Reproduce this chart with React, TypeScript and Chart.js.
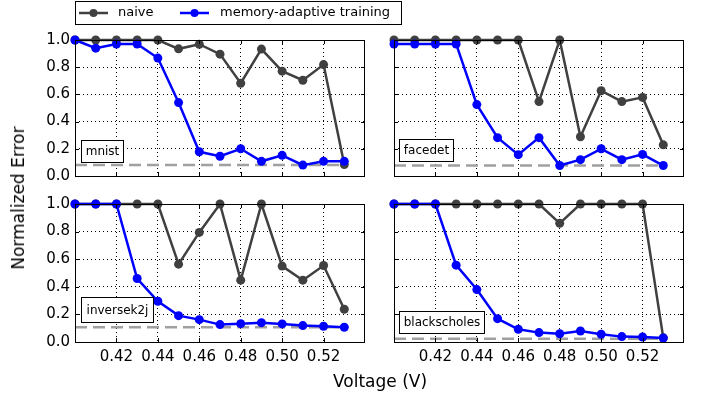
import React, { useEffect, useRef } from "react";
import { Chart, registerables } from "chart.js";

Chart.register(...registerables);

// ---------------- data ----------------
const voltages = [0.4, 0.41, 0.42, 0.43, 0.44, 0.45, 0.46, 0.47, 0.48, 0.49, 0.5, 0.51, 0.52, 0.53];
const xTickValues = [0.42, 0.44, 0.46, 0.48, 0.5, 0.52];
const yTickValues = [0, 0.2, 0.4, 0.6, 0.8, 1.0];

const mnistNaive = [1, 1, 1, 1, 1, 0.935, 0.969, 0.896, 0.682, 0.933, 0.771, 0.704, 0.819, 0.084];
const mnistAdaptive = [1.0, 0.94, 0.971, 0.971, 0.867, 0.54, 0.178, 0.145, 0.2, 0.108, 0.152, 0.08, 0.108, 0.108];
const mnistBaseline = 0.08;

const facedetNaive = [1, 1, 1, 1, 1, 1, 1, 0.547, 1, 0.289, 0.627, 0.547, 0.578, 0.229];
const facedetAdaptive = [0.971, 0.971, 0.971, 0.971, 0.525, 0.282, 0.157, 0.282, 0.077, 0.12, 0.2, 0.12, 0.159, 0.077];
const facedetBaseline = 0.077;

const inversek2jNaive = [1, 1, 1, 1, 1, 0.564, 0.794, 1, 0.448, 1, 0.55, 0.448, 0.554, 0.237];
const inversek2jAdaptive = [1, 1, 1, 0.46, 0.295, 0.191, 0.162, 0.126, 0.133, 0.14, 0.131, 0.119, 0.114, 0.107];
const inversek2jBaseline = 0.107;

const blackscholesNaive = [1, 1, 1, 1, 1, 1, 1, 1, 0.86, 1, 1, 1, 1, 0.03];
const blackscholesAdaptive = [1, 1, 1, 0.557, 0.38, 0.169, 0.092, 0.068, 0.06, 0.08, 0.056, 0.039, 0.036, 0.029];
const blackscholesBaseline = 0.024;

const seriesNames = ["naive", "memory-adaptive training"];
const benchmarkNames = ["mnist", "facedet", "inversek2j", "blackscholes"];

// ---------------- styles / layout ----------------
const W = 704;
const H = 396;
const FONT = "'DejaVu Sans', 'Liberation Sans', sans-serif";
const NAIVE_COLOR = "#404040";
const ADAPT_COLOR = "#0000ff";
const BASE_COLOR = "#a0a0a0";

type Panel = {
  name: string;
  naive: number[];
  adaptive: number[];
  baseline: number;
  area: { left: number; top: number; right: number; bottom: number };
  showX: boolean;
  showY: boolean;
  box: { x: number; y: number; w: number; h: number };
  legend?: boolean;
};

const panels: Panel[] = [
  {
    name: benchmarkNames[0], naive: mnistNaive, adaptive: mnistAdaptive, baseline: mnistBaseline,
    area: { left: 75, top: 40, right: 365, bottom: 176 }, showX: false, showY: true,
    box: { x: 81, y: 140, w: 42, h: 22 }, legend: true,
  },
  {
    name: benchmarkNames[1], naive: facedetNaive, adaptive: facedetAdaptive, baseline: facedetBaseline,
    area: { left: 394, top: 40, right: 684, bottom: 176 }, showX: false, showY: false,
    box: { x: 399, y: 139, w: 54, h: 22 },
  },
  {
    name: benchmarkNames[2], naive: inversek2jNaive, adaptive: inversek2jAdaptive, baseline: inversek2jBaseline,
    area: { left: 75, top: 204, right: 365, bottom: 342 }, showX: true, showY: true,
    box: { x: 81, y: 297, w: 72, h: 25 },
  },
  {
    name: benchmarkNames[3], naive: blackscholesNaive, adaptive: blackscholesAdaptive, baseline: blackscholesBaseline,
    area: { left: 394, top: 204, right: 684, bottom: 342 }, showX: true, showY: false,
    box: { x: 399, y: 311, w: 85, h: 22 },
  },
];

const Y_AXIS_W = 40;
const X_AXIS_H = 30;

const framePlugin = {
  id: "frameAndDecor",
  afterDraw(chart: any, _args: any, opts: any) {
    const ctx = chart.ctx;
    const { left, top, right, bottom } = chart.chartArea;
    const xs = chart.scales.x;
    const ys = chart.scales.y;
    ctx.save();
    ctx.strokeStyle = "#000";
    ctx.lineWidth = 1;
    ctx.setLineDash([]);
    // inward ticks
    ctx.beginPath();
    for (const v of xTickValues) {
      const px = Math.round(xs.getPixelForValue(v)) + 0.5;
      ctx.moveTo(px, bottom);
      ctx.lineTo(px, bottom - 4);
      ctx.moveTo(px, top);
      ctx.lineTo(px, top + 4);
    }
    for (const v of yTickValues) {
      const py = Math.round(ys.getPixelForValue(v)) + 0.5;
      ctx.moveTo(left, py);
      ctx.lineTo(left + 4, py);
      ctx.moveTo(right, py);
      ctx.lineTo(right - 4, py);
    }
    ctx.stroke();
    // frame
    ctx.strokeRect(left + 0.5, top + 0.5, right - left - 1, bottom - top);
    // label box
    const b = opts.box;
    ctx.fillStyle = "#fff";
    ctx.fillRect(b.x, b.y, b.w, b.h);
    ctx.strokeRect(b.x + 0.5, b.y + 0.5, b.w, b.h);
    ctx.fillStyle = "#000";
    ctx.font = `12px ${FONT}`;
    ctx.textAlign = "center";
    ctx.textBaseline = "middle";
    ctx.fillText(opts.name, b.x + b.w / 2 + 0.5, b.y + b.h / 2 + 1);

    if (opts.legend) {
      // legend box
      ctx.strokeStyle = "#000";
      ctx.strokeRect(75.5, 1.5, 326, 23);
      const cy = 13;
      const entries = [
        { label: seriesNames[0], color: NAIVE_COLOR, x0: 79, x1: 108, tx: 118 },
        { label: seriesNames[1], color: ADAPT_COLOR, x0: 180, x1: 209, tx: 220 },
      ];
      for (const e of entries) {
        ctx.strokeStyle = e.color;
        ctx.lineWidth = 2.5;
        ctx.beginPath();
        ctx.moveTo(e.x0, cy);
        ctx.lineTo(e.x1, cy);
        ctx.stroke();
        ctx.fillStyle = e.color;
        ctx.beginPath();
        ctx.arc((e.x0 + e.x1) / 2, cy, 4, 0, Math.PI * 2);
        ctx.fill();
        ctx.fillStyle = "#000";
        ctx.font = `13px ${FONT}`;
        ctx.textAlign = "left";
        ctx.textBaseline = "middle";
        ctx.fillText(e.label, e.tx, cy);
      }
    }
    ctx.restore();
  },
};

function PanelChart({ panel }: { panel: Panel }) {
  const ref = useRef<HTMLCanvasElement | null>(null);
  useEffect(() => {
    if (!ref.current) return;
    const a = panel.area;
    const chart = new Chart(ref.current, {
      type: "line",
      data: {
        datasets: [
          {
            label: seriesNames[1],
            data: voltages.map((v, i) => ({ x: v, y: panel.adaptive[i] })),
            borderColor: ADAPT_COLOR,
            backgroundColor: ADAPT_COLOR,
            borderWidth: 2.5,
            pointRadius: 4.5,
            pointBorderWidth: 0,
            pointBackgroundColor: ADAPT_COLOR,
            clip: false,
            tension: 0,
          },
          {
            label: seriesNames[0],
            data: voltages.map((v, i) => ({ x: v, y: panel.naive[i] })),
            borderColor: NAIVE_COLOR,
            backgroundColor: NAIVE_COLOR,
            borderWidth: 2.5,
            pointRadius: 4.5,
            pointBorderWidth: 0,
            pointBackgroundColor: NAIVE_COLOR,
            clip: false,
            tension: 0,
          },
          {
            label: "baseline",
            data: [
              { x: voltages[0], y: panel.baseline },
              { x: voltages[voltages.length - 1], y: panel.baseline },
            ],
            borderColor: BASE_COLOR,
            borderWidth: 2.5,
            borderDash: [12, 6],
            pointRadius: 0,
            clip: false,
          },
        ],
      } as any,
      options: {
        responsive: false,
        animation: false,
        devicePixelRatio: 1,
        events: [],
        layout: {
          padding: {
            left: a.left - Y_AXIS_W,
            top: a.top,
            right: W - a.right,
            bottom: H - a.bottom - X_AXIS_H,
          },
        },
        plugins: {
          legend: { display: false },
          tooltip: { enabled: false },
          title: { display: false },
          frameAndDecor: { box: panel.box, name: panel.name, legend: !!panel.legend },
        } as any,
        scales: {
          x: {
            type: "linear",
            min: 0.4,
            max: 0.54,
            afterBuildTicks: (s: any) => {
              s.ticks = xTickValues.map((v) => ({ value: v }));
            },
            afterFit: (s: any) => {
              s.height = X_AXIS_H;
            },
            grid: { color: "#000", lineWidth: 1, drawTicks: false },
            border: { display: false, dash: [1, 3] },
            ticks: {
              display: panel.showX,
              padding: 6,
              autoSkip: false,
              maxRotation: 0,
              color: "#000",
              font: { family: FONT, size: 15 },
              callback: (v: any) => Number(v).toFixed(2),
            },
          },
          y: {
            type: "linear",
            min: 0,
            max: 1,
            afterBuildTicks: (s: any) => {
              s.ticks = yTickValues.map((v) => ({ value: v }));
            },
            afterFit: (s: any) => {
              s.width = Y_AXIS_W;
            },
            grid: { color: "#000", lineWidth: 1, drawTicks: false },
            border: { display: false, dash: [1, 3] },
            ticks: {
              display: panel.showY,
              padding: 5,
              color: "#000",
              font: { family: FONT, size: 15 },
              callback: (v: any) => Number(v).toFixed(1),
            },
          },
        },
      } as any,
      plugins: [framePlugin],
    });
    return () => chart.destroy();
  }, [panel]);
  return (
    <canvas
      ref={ref}
      width={W}
      height={H}
      style={{ position: "absolute", left: 0, top: 0, width: W, height: H }}
    />
  );
}

export default function App() {
  return (
    <div
      style={{
        position: "absolute",
        left: 0,
        top: 0,
        width: W,
        height: H,
        background: "#fff",
        overflow: "hidden",
        fontFamily: FONT,
      }}
    >
      {panels.map((p) => (
        <PanelChart key={p.name} panel={p} />
      ))}
      <div
        style={{
          position: "absolute",
          left: 18,
          top: 198,
          transform: "translate(-50%, -50%) rotate(-90deg)",
          fontSize: 17,
          whiteSpace: "nowrap",
          color: "#000",
        }}
      >
        Normalized Error
      </div>
      <div
        style={{
          position: "absolute",
          left: 380,
          top: 381,
          transform: "translate(-50%, -50%)",
          fontSize: 17,
          whiteSpace: "nowrap",
          color: "#000",
        }}
      >
        Voltage (V)
      </div>
    </div>
  );
}
